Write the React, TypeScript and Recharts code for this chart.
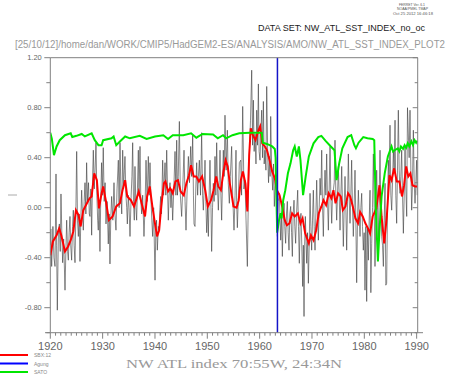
import { LineChart, Line, XAxis, YAxis, ReferenceLine } from "recharts";

// observed monthly-ish index (thin grey), [year, value]
const rawIndex: [number, number][] = [
  [1920.0, -0.3], [1920.1, -0.17], [1920.26, -0.47], [1920.5, -0.15], [1920.7, -0.4], [1920.9, -0.47],
  [1921.09, 0.27], [1921.2, -0.3], [1921.34, -0.82], [1921.55, -0.2], [1921.73, -0.13], [1921.9, -0.35],
  [1922.04, 0.11], [1922.2, -0.2], [1922.36, -0.44], [1922.55, -0.25], [1922.81, -0.66], [1923.0, -0.3],
  [1923.13, -0.1], [1923.3, -0.35], [1923.45, -0.42], [1923.6, -0.2], [1923.76, -0.07], [1923.9, -0.3],
  [1924.08, -0.42], [1924.25, -0.15], [1924.4, -0.02], [1924.55, -0.3], [1924.72, -0.44], [1924.88, -0.05],
  [1925.04, 0.45], [1925.2, -0.1], [1925.36, -0.23], [1925.52, -0.05], [1925.67, -0.43], [1925.83, -0.1],
  [1925.99, 0.14], [1926.15, -0.05], [1926.31, -0.18], [1926.47, 0.05], [1926.63, 0.2], [1926.8, -0.05],
  [1926.94, 0.36], [1927.1, 0.05], [1927.3, 0.2], [1927.45, -0.05], [1927.58, -0.07], [1927.75, 0.15],
  [1927.9, -0.22], [1928.06, 0.2], [1928.22, 0.46], [1928.4, 0.15], [1928.55, 0.3], [1928.73, 0.52],
  [1928.9, 0.1], [1929.05, -0.1], [1929.17, -0.18], [1929.33, 0.05], [1929.49, -0.35], [1929.65, 0.1],
  [1929.8, 0.36], [1929.95, 0.1], [1930.12, 0.48], [1930.3, 0.05], [1930.47, 0.2], [1930.64, -0.13],
  [1930.85, 0.05], [1931.08, -0.29], [1931.25, -0.05], [1931.4, -0.45], [1931.55, -0.1], [1931.72, 0.09],
  [1931.95, -0.1], [1932.17, 0.2], [1932.35, -0.05], [1932.55, -0.18], [1932.75, 0.15], [1933.0, 0.38],
  [1933.15, 0.0], [1933.32, 0.52], [1933.5, 0.1], [1933.65, -0.05], [1933.83, 0.46], [1934.0, 0.15],
  [1934.15, 0.3], [1934.27, 0.41], [1934.45, 0.1], [1934.6, 0.0], [1934.72, -0.13], [1934.9, 0.1],
  [1935.05, 0.0], [1935.23, -0.23], [1935.45, 0.1], [1935.6, 0.25], [1935.74, 0.52], [1935.9, 0.05],
  [1936.05, -0.1], [1936.18, 0.33], [1936.35, 0.0], [1936.5, -0.1], [1936.65, 0.15], [1936.82, 0.46],
  [1936.95, 0.1], [1937.14, 0.49], [1937.3, 0.05], [1937.46, -0.05], [1937.65, 0.1], [1937.9, -0.23],
  [1938.1, 0.0], [1938.29, 0.38], [1938.5, 0.05], [1938.73, 0.41], [1938.9, 0.1], [1939.05, 0.36],
  [1939.25, 0.05], [1939.4, -0.1], [1939.56, -0.23], [1939.75, 0.0], [1940.01, -0.58], [1940.15, -0.2],
  [1940.3, -0.1], [1940.45, -0.34], [1940.65, -0.15], [1940.83, -0.18], [1940.95, 0.0], [1941.09, 0.09],
  [1941.25, -0.05], [1941.47, 0.38], [1941.65, 0.1], [1941.92, 0.36], [1942.08, 0.1], [1942.24, 0.46],
  [1942.4, 0.15], [1942.55, -0.1], [1942.7, 0.1], [1942.87, 0.2], [1943.05, 0.0], [1943.2, 0.15],
  [1943.38, -0.1], [1943.6, 0.15], [1943.83, 0.45], [1944.0, 0.1], [1944.15, 0.54], [1944.3, 0.1],
  [1944.45, 0.25], [1944.66, 0.69], [1944.85, 0.1], [1945.1, -0.07], [1945.3, 0.15], [1945.55, 0.46],
  [1945.75, 0.05], [1945.93, -0.18], [1946.15, 0.15], [1946.38, 0.41], [1946.6, 0.2], [1946.82, 0.49],
  [1947.0, 0.25], [1947.21, 0.58], [1947.35, 0.1], [1947.46, -0.13], [1947.65, -0.15], [1947.8, 0.15],
  [1947.97, 0.36], [1948.15, 0.1], [1948.3, 0.25], [1948.48, 0.38], [1948.7, 0.1], [1948.92, 0.6],
  [1949.1, 0.1], [1949.24, -0.02], [1949.4, 0.15], [1949.56, 0.38], [1949.72, 0.05], [1949.88, -0.2],
  [1950.05, 0.0], [1950.2, -0.23], [1950.35, 0.1], [1950.51, 0.38], [1950.7, 0.0], [1950.83, -0.35],
  [1951.0, 0.0], [1951.15, 0.195], [1951.3, 0.05], [1951.47, 0.41], [1951.63, 0.1], [1951.79, 0.52],
  [1951.95, 0.15], [1952.11, -0.02], [1952.27, 0.2], [1952.43, 0.46], [1952.6, 0.1], [1952.74, -0.1],
  [1952.9, 0.2], [1953.06, 0.46], [1953.22, 0.25], [1953.38, 0.74], [1953.6, 0.3], [1953.83, 0.62],
  [1954.0, 0.2], [1954.21, 0.035], [1954.4, 0.25], [1954.65, 0.49], [1954.85, 0.1], [1955.1, -0.18],
  [1955.3, 0.1], [1955.48, 0.46], [1955.6, 0.05], [1955.74, -0.16], [1955.95, 0.1], [1956.12, 0.36],
  [1956.38, 0.38], [1956.55, 0.1], [1956.76, 0.81], [1957.0, 0.15], [1957.2, 0.22], [1957.4, -0.1],
  [1957.65, -0.47], [1957.85, 0.1], [1958.03, 0.43], [1958.25, 0.7], [1958.48, 1.1], [1958.65, 0.5],
  [1958.8, 0.86], [1958.95, 0.45], [1959.12, 0.59], [1959.3, 0.35], [1959.44, 0.78], [1959.6, 0.5],
  [1959.76, 0.99], [1959.9, 0.45], [1960.07, 0.38], [1960.23, 0.6], [1960.39, 0.78], [1960.55, 0.4],
  [1960.71, 0.85], [1960.87, 0.35], [1961.03, 0.46], [1961.2, 0.3], [1961.35, 0.97], [1961.55, 0.4],
  [1961.7, 0.2], [1961.86, 0.41], [1962.0, 0.25], [1962.11, 0.73], [1962.3, 0.3], [1962.49, 0.14],
  [1962.65, 0.35], [1962.81, 0.01], [1962.97, 0.2], [1963.13, 0.25], [1963.25, 0.05], [1963.39, -0.23],
  [1963.55, 0.05], [1963.77, 0.115], [1963.9, -0.1], [1964.02, -0.26], [1964.18, -0.05], [1964.34, -0.39],
  [1964.5, -0.1], [1964.66, 0.035], [1964.8, -0.15], [1964.97, -0.285], [1965.13, -0.05], [1965.29, 0.05],
  [1965.45, -0.2], [1965.61, -0.34], [1965.77, -0.05], [1965.93, 0.01], [1966.1, -0.2], [1966.25, -0.39],
  [1966.4, -0.05], [1966.57, 0.06], [1966.72, -0.15], [1966.88, -0.285], [1967.05, -0.05], [1967.27, 0.14],
  [1967.42, -0.15], [1967.58, -0.445], [1967.75, -0.1], [1967.9, -0.045], [1968.05, -0.3], [1968.22, -0.63],
  [1968.35, -0.3], [1968.48, -0.87], [1968.6, -0.3], [1968.73, -0.07], [1968.86, -0.25], [1968.99, -0.445],
  [1969.15, -0.2], [1969.31, -0.605], [1969.47, -0.3], [1969.63, 0.115], [1969.78, -0.15], [1969.94, -0.34],
  [1970.1, -0.1], [1970.26, 0.14], [1970.42, -0.15], [1970.58, -0.34], [1970.75, -0.05], [1970.9, 0.22],
  [1971.05, -0.05], [1971.22, -0.26], [1971.38, 0.0], [1971.54, 0.235], [1971.7, 0.1], [1971.86, 0.46],
  [1972.0, 0.05], [1972.17, -0.23], [1972.33, 0.1], [1972.49, 0.3], [1972.65, 0.1], [1972.81, 0.43],
  [1972.97, 0.05], [1973.13, -0.18], [1973.29, 0.15], [1973.45, 0.49], [1973.6, 0.1], [1973.77, -0.125],
  [1973.92, 0.1], [1974.08, 0.14], [1974.25, 0.2], [1974.4, 0.54], [1974.56, 0.1], [1974.72, -0.1],
  [1974.88, 0.1], [1975.04, 0.33], [1975.2, 0.1], [1975.36, -0.18], [1975.52, 0.1], [1975.68, 0.33],
  [1975.84, 0.0], [1975.99, -0.31], [1976.15, 0.0], [1976.31, 0.25], [1976.47, 0.0], [1976.63, -0.34],
  [1976.8, 0.05], [1976.95, 0.43], [1977.1, 0.1], [1977.27, -0.125], [1977.42, 0.1], [1977.58, 0.38],
  [1977.74, 0.0], [1977.9, -0.23], [1978.05, 0.0], [1978.22, 0.3], [1978.38, -0.1], [1978.54, -0.6],
  [1978.7, -0.1], [1978.86, 0.14], [1979.02, -0.05], [1979.18, -0.23], [1979.34, 0.0], [1979.5, 0.115],
  [1979.65, -0.15], [1979.81, -0.34], [1979.97, -0.2], [1980.13, -0.66], [1980.29, -0.15], [1980.45, -0.75],
  [1980.6, -0.15], [1980.77, -0.42], [1980.93, -0.1], [1981.09, 0.14], [1981.25, -0.68], [1981.41, -0.285],
  [1981.57, 0.0], [1981.73, 0.43], [1981.89, 0.0], [1982.04, -0.47], [1982.2, -0.1], [1982.36, 0.3],
  [1982.52, 0.0], [1982.68, -0.285], [1982.84, 0.1], [1983.0, 0.46], [1983.16, 0.0], [1983.32, -0.23],
  [1983.48, -0.3], [1983.64, -0.47], [1983.8, -0.1], [1983.96, 0.195], [1984.11, -0.62], [1984.27, -0.605],
  [1984.43, 0.0], [1984.59, 0.38], [1984.75, 0.2], [1984.91, 0.66], [1985.07, 0.1], [1985.23, -0.02],
  [1985.39, 0.2], [1985.55, 0.46], [1985.71, 0.3], [1985.87, 0.7], [1986.02, 0.1], [1986.18, -0.125],
  [1986.34, 0.3], [1986.5, 0.78], [1986.66, 0.3], [1986.82, 0.115], [1986.98, 0.25], [1987.14, 0.46],
  [1987.3, 0.1], [1987.46, -0.205], [1987.62, 0.1], [1987.78, 0.49], [1987.94, 0.15], [1988.1, -0.07],
  [1988.25, 0.8], [1988.41, 0.59], [1988.57, 0.4], [1988.73, 0.78], [1988.89, 0.3], [1989.05, -0.02],
  [1989.21, 0.2], [1989.37, 0.62], [1989.53, 0.2], [1989.69, 0.035], [1989.85, 0.2], [1990.0, 0.38],
  [1990.1, 0.1],
];

// SBX:12 smoothed index (red)
const smoothIndex: [number, number][] = [
  [1920.0, -0.38], [1920.5, -0.27], [1921.2, -0.22], [1921.7, -0.165], [1922.1, -0.22], [1922.8, -0.35],
  [1923.4, -0.31], [1923.9, -0.26], [1924.4, -0.19], [1924.9, -0.02], [1925.4, -0.06], [1925.8, -0.15],
  [1926.3, -0.02], [1927.0, 0.035], [1927.5, 0.075], [1927.9, 0.09], [1928.4, 0.275], [1928.9, 0.22],
  [1929.3, -0.005], [1929.8, 0.115], [1930.1, 0.17], [1930.6, 0.06], [1931.2, -0.1], [1931.9, -0.07],
  [1932.6, 0.01], [1933.3, 0.035], [1933.8, 0.14], [1934.3, 0.22], [1934.7, 0.09], [1935.4, 0.06],
  [1936.0, 0.01], [1936.5, 0.075], [1936.9, 0.13], [1937.6, 0.01], [1938.1, -0.07], [1938.5, 0.09],
  [1939.0, 0.17], [1939.5, 0.01], [1940.0, -0.125], [1940.4, -0.23], [1940.8, -0.18], [1941.2, 0.01],
  [1941.7, 0.195], [1942.0, 0.21], [1942.5, 0.13], [1942.9, 0.155], [1943.4, 0.115], [1943.9, 0.21],
  [1944.4, 0.22], [1944.9, 0.13], [1945.5, 0.1], [1946.0, 0.195], [1946.5, 0.26], [1946.9, 0.34],
  [1947.4, 0.25], [1947.9, 0.25], [1948.4, 0.21], [1949.0, 0.25], [1949.6, 0.14], [1950.1, 0.01],
  [1950.7, 0.06], [1951.2, 0.14], [1951.7, 0.25], [1952.1, 0.17], [1952.6, 0.14], [1953.1, 0.29],
  [1953.5, 0.38], [1953.9, 0.33], [1954.3, 0.195], [1954.7, 0.09], [1955.0, 0.01], [1955.6, 0.0],
  [1956.0, 0.06], [1956.4, 0.22], [1956.8, 0.29], [1957.3, 0.19], [1957.65, -0.03], [1958.0, 0.42],
  [1958.3, 0.635], [1958.7, 0.58], [1959.2, 0.54], [1959.7, 0.61], [1960.1, 0.65], [1960.5, 0.515],
  [1961.0, 0.49], [1961.4, 0.46], [1961.9, 0.38], [1962.4, 0.29], [1962.9, 0.235], [1963.3, 0.14],
  [1963.8, 0.1], [1964.3, 0.01], [1964.8, -0.1], [1965.2, -0.14], [1965.7, -0.125], [1966.2, -0.045],
  [1966.7, -0.07], [1967.3, -0.045], [1967.8, -0.125], [1968.2, -0.085], [1968.7, -0.205], [1969.4, -0.285],
  [1969.8, -0.22], [1970.3, -0.26], [1970.8, -0.18], [1971.3, -0.045], [1971.8, 0.01], [1972.2, 0.06],
  [1972.7, 0.02], [1973.2, 0.115], [1973.7, 0.075], [1974.1, 0.14], [1974.5, 0.035], [1975.0, 0.115],
  [1975.5, 0.09], [1975.9, -0.02], [1976.4, 0.01], [1976.9, 0.115], [1977.3, 0.09], [1977.8, 0.01],
  [1978.3, -0.085], [1978.8, -0.125], [1979.2, -0.035], [1979.7, -0.07], [1980.2, -0.125], [1980.7, -0.165],
  [1981.1, -0.205], [1981.6, -0.07], [1982.3, -0.005], [1982.9, 0.18], [1983.3, -0.07], [1983.8, -0.285],
  [1984.3, -0.07], [1984.8, 0.26], [1985.2, 0.22], [1985.7, 0.315], [1986.2, 0.21], [1986.7, 0.21],
  [1987.2, 0.09], [1987.6, 0.18], [1988.0, 0.33], [1988.4, 0.25], [1988.8, 0.275], [1989.2, 0.18],
  [1989.7, 0.17], [1990.1, 0.17],
];

// SATO aerosol curve (green), plotted on same axis
const satoCurve: [number, number][] = [
  [1920.0, 0.6], [1920.3, 0.55], [1920.7, 0.42], [1921.2, 0.49], [1921.8, 0.54], [1922.8, 0.58],
  [1923.9, 0.595], [1924.2, 0.565], [1925.0, 0.575], [1926.0, 0.59], [1926.6, 0.57], [1927.9, 0.595],
  [1928.5, 0.54], [1929.2, 0.5], [1929.8, 0.5], [1930.1, 0.54], [1931.7, 0.555], [1932.1, 0.57],
  [1932.6, 0.5], [1933.3, 0.53], [1934.3, 0.57], [1935.2, 0.555], [1937.1, 0.575], [1938.4, 0.55],
  [1940.0, 0.57], [1941.6, 0.58], [1942.5, 0.55], [1943.4, 0.58], [1945.4, 0.58], [1946.9, 0.595],
  [1947.9, 0.56], [1949.1, 0.59], [1951.1, 0.585], [1952.0, 0.555], [1953.0, 0.58], [1953.6, 0.555],
  [1954.8, 0.58], [1956.1, 0.595], [1958.1, 0.6], [1960.4, 0.6], [1960.6, 0.52], [1961.4, 0.51],
  [1961.9, 0.5], [1962.4, 0.49], [1962.9, 0.47], [1963.05, 0.4], [1963.35, -0.2], [1963.7, -0.1],
  [1964.0, -0.045], [1964.2, -0.085], [1964.5, 0.06], [1964.9, 0.14], [1965.4, 0.275], [1965.9, 0.355],
  [1966.4, 0.46], [1966.7, 0.49], [1967.1, 0.41], [1967.5, 0.49], [1967.8, 0.38], [1968.3, 0.1],
  [1968.8, 0.25], [1969.4, 0.41], [1970.3, 0.515], [1971.2, 0.565], [1971.8, 0.575], [1972.6, 0.535],
  [1973.6, 0.49], [1974.3, 0.46], [1974.7, 0.22], [1975.2, 0.355], [1975.8, 0.475], [1976.8, 0.565],
  [1977.5, 0.58], [1978.1, 0.5], [1978.4, 0.475], [1978.9, 0.52], [1979.8, 0.565], [1980.6, 0.555],
  [1981.6, 0.55], [1981.9, 0.54], [1982.2, -0.02], [1982.6, -0.43], [1982.9, -0.18], [1983.3, 0.09],
  [1983.9, 0.275], [1984.5, 0.41], [1985.2, 0.49], [1985.5, 0.45], [1985.8, 0.46], [1986.4, 0.475],
  [1986.7, 0.45], [1987.0, 0.49], [1987.4, 0.47], [1987.7, 0.5], [1988.0, 0.48], [1988.3, 0.515],
  [1988.6, 0.49], [1989.0, 0.53], [1989.3, 0.5], [1989.6, 0.54], [1989.9, 0.52], [1990.1, 0.535],
];

const agungYear = 1963.4;

const yearTicks = Array.from({ length: 71 }, (_, i) => 1920 + i);
const yTicks = [-1.0, -0.8, -0.6, -0.4, -0.2, 0, 0.2, 0.4, 0.6, 0.8, 1.0, 1.2];

const legendItems = [
  { label: "SBX:12", color: "#ff0000" },
  { label: "Agung", color: "#0000ff" },
  { label: "SATO", color: "#00e600" },
];

const toRows = (pts: [number, number][]) => pts.map(([year, v]) => ({ year, v }));

const AXIS = "#808080";
const FONT = "Liberation Sans, Arial, sans-serif";
const X_DOMAIN: [number, number] = [1920, 1990.2];
const Y_DOMAIN: [number, number] = [-1.0, 1.2];

const isDecade = (v: number) => v % 10 === 0;
const isLabelled = (v: number) => Math.round(v * 10) % 4 === 0;

function BottomTick(props: any) {
  const { x, y, payload } = props;
  const major = isDecade(payload.value);
  return (
    <g>
      <line x1={x} y1={y} x2={x} y2={y + (major ? 6 : 3)} stroke={AXIS} />
      {major && (
        <text x={x} y={y + 17} textAnchor="middle" fontSize={11} fill="#666" fontFamily={FONT}>
          {payload.value}
        </text>
      )}
    </g>
  );
}

function TopTick(props: any) {
  const { x, y, payload } = props;
  const major = isDecade(payload.value);
  return <line x1={x} y1={y} x2={x} y2={y - (major ? 5 : 3)} stroke={AXIS} />;
}

function LeftTick(props: any) {
  const { x, y, payload } = props;
  const major = isLabelled(payload.value);
  return (
    <g>
      <line x1={x - (major ? 6 : 4)} y1={y} x2={x} y2={y} stroke={AXIS} />
      {major && (
        <text x={x - 8.5} y={y + 2.7} textAnchor="end" fontSize={7.5} fill="#666" fontFamily={FONT}>
          {payload.value.toFixed(2)}
        </text>
      )}
    </g>
  );
}

function RightTick(props: any) {
  const { x, y, payload } = props;
  const major = isLabelled(payload.value);
  return <line x1={x - (major ? 5 : 3)} y1={y} x2={x} y2={y} stroke={AXIS} />;
}

export default function App() {
  return (
    <div style={{ position: "absolute", left: 0, top: 0, width: 453, height: 375, background: "#fff" }}>
      <LineChart width={453} height={375} margin={{ top: 0, right: 0, bottom: 0, left: 0 }}>
        <XAxis
          xAxisId="b"
          type="number"
          dataKey="year"
          domain={X_DOMAIN}
          allowDataOverflow
          ticks={yearTicks}
          interval={0}
          height={42.3}
          tickSize={0}
          tickMargin={0}
          tickLine={false}
          stroke={AXIS}
          tick={<BottomTick />}
        />
        <XAxis
          xAxisId="t"
          orientation="top"
          type="number"
          domain={X_DOMAIN}
          allowDataOverflow
          ticks={yearTicks}
          interval={0}
          height={57.7}
          tickSize={0}
          tickMargin={0}
          tickLine={false}
          stroke={AXIS}
          tick={<TopTick />}
        />
        <YAxis
          yAxisId="l"
          type="number"
          domain={Y_DOMAIN}
          allowDataOverflow
          ticks={yTicks}
          interval={0}
          width={50.3}
          tickSize={0}
          tickMargin={0}
          tickLine={false}
          stroke={AXIS}
          tick={<LeftTick />}
        />
        <YAxis
          yAxisId="r"
          orientation="right"
          type="number"
          domain={Y_DOMAIN}
          allowDataOverflow
          ticks={yTicks}
          interval={0}
          width={35.3}
          tickSize={0}
          tickMargin={0}
          tickLine={false}
          stroke={AXIS}
          tick={<RightTick />}
        />

        <Line
          xAxisId="b"
          yAxisId="l"
          data={toRows(rawIndex)}
          dataKey="v"
          stroke="#3a3a3a"
          strokeWidth={0.6}
          dot={false}
          isAnimationActive={false}
        />
        <Line
          xAxisId="b"
          yAxisId="l"
          data={toRows(smoothIndex)}
          dataKey="v"
          stroke="#ff0000"
          strokeWidth={2}
          dot={false}
          isAnimationActive={false}
        />
        <Line
          xAxisId="b"
          yAxisId="l"
          data={toRows(satoCurve)}
          dataKey="v"
          stroke="#00e600"
          strokeWidth={2}
          dot={false}
          isAnimationActive={false}
        />
        <ReferenceLine xAxisId="b" yAxisId="l" x={agungYear} stroke="#1414c8" strokeWidth={1.5} />
      </LineChart>

      <svg
        width={453}
        height={375}
        style={{ position: "absolute", left: 0, top: 0, pointerEvents: "none" }}
        fontFamily={FONT}
      >
        <text x={399} y={5.5} fontSize={4} fill="#555" textLength={26} lengthAdjust="spacingAndGlyphs">FERRET Ver. 6.1</text>
        <text x={397} y={10} fontSize={4} fill="#555" textLength={31} lengthAdjust="spacingAndGlyphs">NOAA/PMEL TMAP</text>
        <text x={393} y={14.5} fontSize={4} fill="#555" textLength={40} lengthAdjust="spacingAndGlyphs">Oct 25 2012 16:46:18</text>
        <text x={258} y={31} fontSize={9.5} fill="#222" textLength={167} lengthAdjust="spacingAndGlyphs">
          DATA SET: NW_ATL_SST_INDEX_no_oc
        </text>
        <text x={15} y={47.5} fontSize={10} fill="#999" textLength={430} lengthAdjust="spacingAndGlyphs">
          [25/10/12]/home/dan/WORK/CMIP5/HadGEM2-ES/ANALYSIS/AMO/NW_ATL_SST_INDEX_PLOT2
        </text>
        <line x1={8} y1={195} x2={17} y2={195} stroke="#aaa" strokeWidth={1} />
        <line x1={45} y1={332.7} x2={50.3} y2={332.7} stroke={AXIS} />
        <line x1={417.7} y1={332.7} x2={423} y2={332.7} stroke={AXIS} />
        <text
          x={126}
          y={368}
          fontSize={13}
          fill="#999"
          fontFamily="Liberation Serif, serif"
          textLength={216}
          lengthAdjust="spacingAndGlyphs"
        >
          NW ATL index 70:55W, 24:34N
        </text>
        {legendItems.map((item, i) => (
          <g key={item.label}>
            <line x1={0} y1={355 + i * 8.5} x2={28} y2={355 + i * 8.5} stroke={item.color} strokeWidth={2} />
            <text x={34} y={357 + i * 8.5} fontSize={5} fill="#888">
              {item.label}
            </text>
          </g>
        ))}
      </svg>
    </div>
  );
}
